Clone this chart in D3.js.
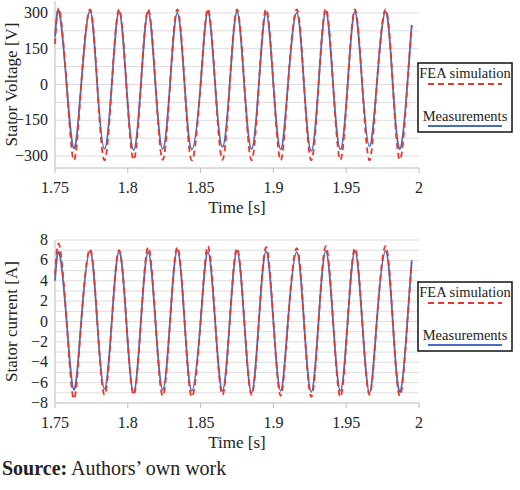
<!DOCTYPE html>
<html><head><meta charset="utf-8">
<script src="https://cdn.jsdelivr.net/npm/d3@7"></script>
<style>
body{margin:0;background:#fff;}
text{font-family:"Liberation Serif","Times New Roman",serif;fill:#222;}
</style></head>
<body><svg id="chart" width="520" height="490"></svg>
<script>
// sample times (peaks, zero crossings, troughs)
var times = [1.750,
  1.753,1.758,1.763,1.768, 1.774,1.779,1.784,1.789, 1.794,1.799,1.804,1.809,
  1.814,1.819,1.824,1.829, 1.834,1.839,1.844,1.850, 1.855,1.860,1.865,1.870,
  1.875,1.880,1.885,1.890, 1.895,1.900,1.905,1.910, 1.916,1.921,1.926,1.931,
  1.936,1.941,1.946,1.951, 1.956,1.961,1.966,1.971, 1.977,1.982,1.987,1.992,
  1.995];

var voltageFEA = [170,
  315,0,-318,0, 315,0,-318,0, 315,0,-316,0,
  315,0,-316,0, 315,0,-318,0, 318,0,-316,0,
  315,0,-318,0, 316,0,-318,0, 315,0,-318,0,
  318,0,-316,0, 315,0,-318,0, 315,0,-315,0,
  245];
var voltageMeas = [200,
  302,0,-268,0, 308,0,-270,0, 305,0,-275,0,
  305,0,-270,0, 300,0,-272,0, 305,0,-262,0,
  305,0,-270,0, 300,0,-272,0, 300,0,-278,0,
  305,0,-272,0, 305,0,-260,0, 305,0,-270,0,
  250];

var currentFEA = [4.6,
  7.5,0,-7.6,0, 7.1,0,-7.2,0, 7.0,0,-7.2,0,
  7.3,0,-7.3,0, 7.3,0,-7.4,0, 7.4,0,-7.2,0,
  7.2,0,-7.2,0, 7.3,0,-7.3,0, 7.2,0,-7.4,0,
  7.4,0,-7.4,0, 7.2,0,-7.2,0, 7.4,0,-7.3,0,
  5.8];
var currentMeas = [4.0,
  6.7,0,-6.7,0, 6.9,0,-6.6,0, 6.9,0,-7.0,0,
  6.8,0,-6.7,0, 7.0,0,-6.8,0, 6.8,0,-6.8,0,
  6.9,0,-7.0,0, 6.9,0,-6.8,0, 6.8,0,-6.9,0,
  6.9,0,-6.8,0, 6.9,0,-7.0,0, 6.9,0,-6.9,0,
  6.0];

var xTicks = [1.75, 1.8, 1.85, 1.9, 1.95, 2];
var xTickLabels = ["1.75", "1.8", "1.85", "1.9", "1.95", "2"];
var vTicks = [300, 150, 0, -150, -300];
var vGrid = [-300, -225, -150, -75, 0, 75, 150, 225, 300];
var iTicks = [8, 6, 4, 2, 0, -2, -4, -6, -8];
var iGrid = [-7, -6, -5, -4, -3, -2, -1, 0, 1, 2, 3, 4, 5, 6, 7, 8];

var svg = d3.select("#chart");

function panel(cfg) {
  var x = d3.scaleLinear().domain([1.75, 2]).range([55, 419]);
  var y = d3.scaleLinear().domain(cfg.domain).range([cfg.bottom, cfg.top]);
  var g = svg.append("g");

  g.selectAll(".grid").data(cfg.grid).enter().append("line")
    .attr("x1", 55).attr("x2", 419)
    .attr("y1", d => y(d)).attr("y2", d => y(d))
    .attr("stroke", "#dcdcdc").attr("stroke-width", 1);

  // axes
  g.append("line").attr("x1", 55).attr("x2", 55).attr("y1", cfg.top).attr("y2", cfg.bottom).attr("stroke", "#bbb");
  g.append("line").attr("x1", 55).attr("x2", 419).attr("y1", cfg.bottom).attr("y2", cfg.bottom).attr("stroke", "#bbb");
  g.selectAll(".xt").data(xTicks).enter().append("line")
    .attr("x1", d => x(d)).attr("x2", d => x(d))
    .attr("y1", cfg.bottom).attr("y2", cfg.bottom + 5).attr("stroke", "#bbb");
  g.selectAll(".xl").data(xTicks).enter().append("text")
    .attr("x", d => x(d)).attr("y", cfg.bottom + 25)
    .attr("text-anchor", "middle").attr("font-size", 16)
    .text((d, i) => xTickLabels[i]);
  g.selectAll(".yl").data(cfg.ticks).enter().append("text")
    .attr("x", 48).attr("y", d => y(d) + 5)
    .attr("text-anchor", "end").attr("font-size", 16)
    .text(d => d < 0 ? "\u2212" + Math.abs(d) : d);
  g.append("text").attr("x", 237).attr("y", cfg.bottom + 45)
    .attr("text-anchor", "middle").attr("font-size", 17).text("Time [s]");
  g.append("text")
    .attr("transform", "translate(17," + ((cfg.top + cfg.bottom) / 2) + ") rotate(-90)")
    .attr("text-anchor", "middle").attr("font-size", 17).text(cfg.label);

  var line = d3.line().x((d, i) => x(times[i])).y(d => y(d)).curve(d3.curveNatural);
  g.append("path").attr("d", line(cfg.meas)).attr("fill", "none")
    .attr("stroke", "#4a6cc0").attr("stroke-width", 1.8);
  g.append("path").attr("d", line(cfg.fea)).attr("fill", "none")
    .attr("stroke", "#e8382c").attr("stroke-width", 1.8).attr("stroke-dasharray", "6,4");

  // legend
  var L = g.append("g").attr("transform", "translate(418," + cfg.legendY + ")");
  L.append("rect").attr("width", 94).attr("height", 69).attr("fill", "#fff")
    .attr("stroke", "#111").attr("stroke-width", 1.5);
  L.append("text").attr("x", 47).attr("y", 15).attr("text-anchor", "middle").attr("font-size", 14.5).text("FEA simulation");
  L.append("line").attr("x1", 10).attr("x2", 84).attr("y1", 21).attr("y2", 21)
    .attr("stroke", "#e8382c").attr("stroke-width", 2).attr("stroke-dasharray", "6,4");
  L.append("text").attr("x", 47).attr("y", 58).attr("text-anchor", "middle").attr("font-size", 14.5).text("Measurements");
  L.append("line").attr("x1", 10).attr("x2", 84).attr("y1", 63).attr("y2", 63)
    .attr("stroke", "#4a6cc0").attr("stroke-width", 2);
}

panel({domain: [-350, 350], top: 1, bottom: 168, grid: vGrid, ticks: vTicks,
  label: "Stator Voltage [V]", fea: voltageFEA, meas: voltageMeas, legendY: 63});
panel({domain: [-8, 8], top: 240, bottom: 403, grid: iGrid, ticks: iTicks,
  label: "Stator current [A]", fea: currentFEA, meas: currentMeas, legendY: 282});

var src = svg.append("text").attr("x", 2).attr("y", 475).attr("font-size", 20);
src.append("tspan").attr("font-weight", "bold").text("Source:");
src.append("tspan").text(" Authors\u2019 own work");
</script></body></html>
